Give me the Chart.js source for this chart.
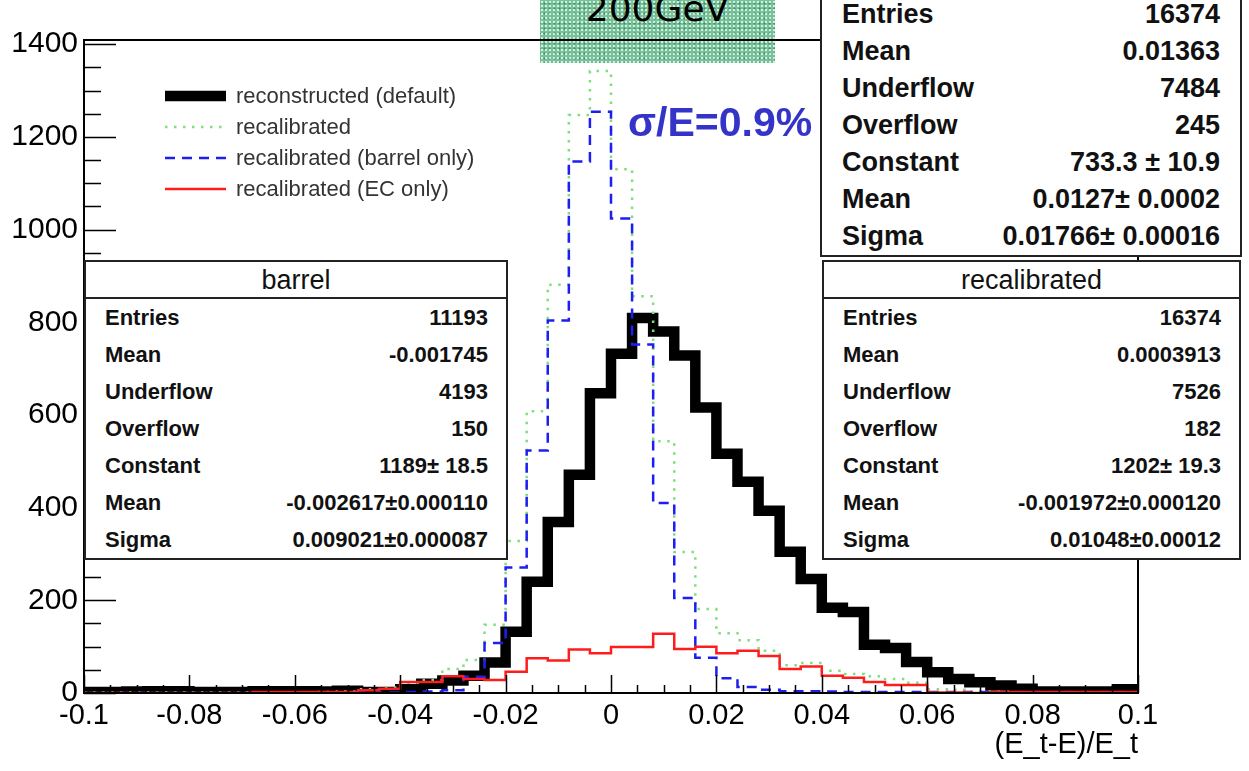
<!DOCTYPE html>
<html lang="en">
<head>
<meta charset="UTF-8">
<title>200GeV energy resolution</title>
<script src="https://cdn.jsdelivr.net/npm/chart.js"></script>
<style>
  html, body { margin: 0; padding: 0; background: #fff; }
  body { width: 1249px; height: 771px; position: relative; overflow: hidden; font-family: "Liberation Sans", Arial, sans-serif; color: #111; }
  #wrap { position: absolute; left: 0; top: 0; width: 1249px; height: 771px; z-index: 2; }
  /* green title tag */
  .tag { position: absolute; left: 540px; top: 0; width: 235px; height: 63px; z-index: 1; overflow: hidden;
         background-color: #78c29b;
         background-image: radial-gradient(circle, rgba(255,255,255,0.7) 0.9px, transparent 1.4px),
                           radial-gradient(circle, rgba(30,120,70,0.55) 0.9px, transparent 1.4px);
         background-size: 4px 4px, 5px 5px; background-position: 0 0, 2px 1px; }
  .tag span { position: absolute; left: 0; right: 0; top: -13px; text-align: center; font-family: "DejaVu Sans", sans-serif;
              font-size: 36px; line-height: 44px; color: #000; }
  .sigma { position: absolute; left: 628px; top: 99px; z-index: 3; font-weight: bold; font-size: 41px; color: #3434c8; }
  .legend { position: absolute; left: 165px; top: 80px; z-index: 3; }
  .legend .item { position: absolute; left: 0; height: 30px; white-space: nowrap; }
  .legend svg { position: absolute; left: 0; top: 0; }
  .legend span { position: absolute; left: 71px; top: 0; line-height: 30px; font-size: 22px; color: #333; }
  .stat { position: absolute; background: #fff; border: 2px solid #222; box-sizing: border-box; z-index: 3; }
  .stat .title { height: 35px; line-height: 37px; text-align: center; font-size: 27px; border-bottom: 2px solid #222; }
  .stat .row { display: flex; justify-content: space-between; height: 37px; line-height: 37px; font-weight: bold; font-size: 22px; padding: 0 18px 0 19px; }
  .stat.big .row { font-size: 27px; padding: 0 20px 0 20px; }
</style>
</head>
<body>
<div class="tag"><span>200GeV</span></div>
<div id="wrap"><canvas id="resChart" width="1249" height="771"></canvas></div>
<div class="sigma">σ/E=0.9%</div>
<div class="legend" id="legend"></div>

<div class="stat big" style="left:820px; top:-6px; width:422px;">
  <div class="row"><span>Entries</span><span>16374</span></div>
  <div class="row"><span>Mean</span><span>0.01363</span></div>
  <div class="row"><span>Underflow</span><span>7484</span></div>
  <div class="row"><span>Overflow</span><span>245</span></div>
  <div class="row"><span>Constant</span><span>733.3 ± 10.9</span></div>
  <div class="row"><span>Mean</span><span>0.0127± 0.0002</span></div>
  <div class="row"><span>Sigma</span><span>0.01766± 0.00016</span></div>
</div>

<div class="stat" style="left:84px; top:260px; width:424px;">
  <div class="title">barrel</div>
  <div class="row"><span>Entries</span><span>11193</span></div>
  <div class="row"><span>Mean</span><span>-0.001745</span></div>
  <div class="row"><span>Underflow</span><span>4193</span></div>
  <div class="row"><span>Overflow</span><span>150</span></div>
  <div class="row"><span>Constant</span><span>1189± 18.5</span></div>
  <div class="row"><span>Mean</span><span>-0.002617±0.000110</span></div>
  <div class="row"><span>Sigma</span><span>0.009021±0.000087</span></div>
</div>

<div class="stat" style="left:822px; top:260px; width:419px;">
  <div class="title">recalibrated</div>
  <div class="row"><span>Entries</span><span>16374</span></div>
  <div class="row"><span>Mean</span><span>0.0003913</span></div>
  <div class="row"><span>Underflow</span><span>7526</span></div>
  <div class="row"><span>Overflow</span><span>182</span></div>
  <div class="row"><span>Constant</span><span>1202± 19.3</span></div>
  <div class="row"><span>Mean</span><span>-0.001972±0.000120</span></div>
  <div class="row"><span>Sigma</span><span>0.01048±0.00012</span></div>
</div>

<script>
// 50 bins of width 0.004 from -0.1 to 0.1
const binEdges = Array.from({ length: 51 }, (_, i) => +(-0.1 + i * 0.004).toFixed(3));

// bin contents
const reconstructed = [2, 2, 3, 4, 4, 2, 2, 2, 4, 4,
                       4, 3, 5, 2, 2, 8, 20, 27, 37, 66,
                       132, 240, 369, 471, 647, 732, 809, 780, 728, 616,
                       516, 456, 393, 305, 246, 184, 175, 104, 97, 67,
                       45, 30, 23, 16, 9, 3, 3, 3, 3, 8];
const recalibrated = [1, 1, 1, 1, 1, 1, 1, 1, 1, 1,
                      1, 2, 3, 8, 12, 22, 28, 52, 71, 147,
                      328, 608, 881, 1247, 1342, 1130, 856, 543, 304, 181,
                      129, 114, 91, 60, 65, 48, 41, 36, 30, 22,
                      8, 7, 3, 3, 1, 1, 1, 1, 1, 1];
const barrelOnly = [0, 0, 0, 0, 0, 0, 0, 0, 0, 0,
                    0, 0, 1, 1, 1, 2, 3, 6, 35, 108,
                    271, 523, 804, 1147, 1254, 1024, 752, 410, 205, 76,
                    32, 13, 7, 4, 4, 3, 2, 2, 2, 2,
                    2, 2, 2, 2, 2, 2, 2, 2, 2, 2];
const ecOnly = [0, 0, 0, 0, 0, 0, 0, 0, 2, 2,
                2, 2, 2, 6, 9, 24, 24, 36, 30, 28,
                46, 75, 70, 94, 86, 99, 99, 128, 95, 100,
                86, 91, 80, 52, 57, 37, 33, 24, 17, 17,
                1, 1, 0, 2, 2, 2, 2, 2, 2, 2];

const seriesNames = ['reconstructed (default)', 'recalibrated', 'recalibrated (barrel only)', 'recalibrated (EC only)'];
const xTicks = [-0.1, -0.08, -0.06, -0.04, -0.02, 0, 0.02, 0.04, 0.06, 0.08, 0.1];
const yTicks = [0, 200, 400, 600, 800, 1000, 1200, 1400];
const xMinorStep = 0.005;
const yMinorStep = 50;

// histogram outline: one point per left bin edge plus the closing right edge
function steps(values) {
    const pts = values.map((v, i) => ({ x: binEdges[i], y: v }));
    pts.push({ x: binEdges[values.length], y: values[values.length - 1] });
    return pts;
}

const styles = [
    { color: '#000000', width: 10.5, dash: [] },
    { color: '#7ddf7d', width: 2.5, dash: [2.5, 6.5] },
    { color: '#1e1ef0', width: 2.5, dash: [10, 7] },
    { color: '#ff1c1c', width: 2.5, dash: [] }
];
const seriesValues = [reconstructed, recalibrated, barrelOnly, ecOnly];

// ROOT style frame with ticks on the inside
const frameTicks = {
    id: 'frameTicks',
    afterDatasetsDraw(chart) {
        const { ctx, chartArea: a, scales: { x, y } } = chart;
        ctx.save();
        ctx.strokeStyle = '#000';
        ctx.lineWidth = 1.5;
        ctx.beginPath();
        for (let v = y.min; v <= y.max; v += yMinorStep) {
            const py = Math.round(y.getPixelForValue(v)) + 0.5;
            const len = yTicks.includes(v) ? 32 : 17;
            ctx.moveTo(a.left, py); ctx.lineTo(a.left + len, py);
        }
        for (let i = 0; i * xMinorStep <= 0.2 + 1e-9; i++) {
            const v = +(x.min + i * xMinorStep).toFixed(3);
            const px = Math.round(x.getPixelForValue(v)) + 0.5;
            const len = xTicks.includes(v) ? 18 : 8;
            ctx.moveTo(px, a.bottom); ctx.lineTo(px, a.bottom - len);
        }
        ctx.stroke();
        ctx.lineWidth = 2;
        ctx.strokeRect(a.left, a.top, a.right - a.left, a.bottom - a.top);
        ctx.restore();
    }
};

const labelFont = { family: '"Liberation Sans", Arial, sans-serif', size: 29 };

new Chart(document.getElementById('resChart'), {
    type: 'line',
    data: {
        datasets: seriesValues.map((vals, i) => ({
            label: seriesNames[i],
            data: steps(vals),
            stepped: true,
            borderColor: styles[i].color,
            borderWidth: styles[i].width,
            borderDash: styles[i].dash,
            borderCapStyle: 'butt',
            borderJoinStyle: 'miter',
            pointRadius: 0,
            fill: false,
            order: 4 - i
        }))
    },
    options: {
        responsive: false,
        animation: false,
        layout: { padding: { top: 40, right: 111, left: 0, bottom: 0 } },
        plugins: { legend: { display: false }, tooltip: { enabled: false } },
        scales: {
            x: {
                type: 'linear', min: -0.1, max: 0.1,
                grid: { display: false, drawTicks: false },
                border: { display: false },
                afterBuildTicks: s => { s.ticks = xTicks.map(v => ({ value: v })); },
                afterFit: s => { s.height = 78; },
                ticks: { color: '#000', font: labelFont, padding: 6, maxRotation: 0, autoSkip: false,
                         callback: v => String(Number(v.toFixed(3))) },
                title: { display: true, text: '(E_t-E)/E_t', align: 'end', color: '#000', font: labelFont,
                         padding: { top: 0, bottom: 9 } }
            },
            y: {
                type: 'linear', min: 0, max: 1409,
                grid: { display: false, drawTicks: false },
                border: { display: false },
                afterBuildTicks: s => { s.ticks = yTicks.map(v => ({ value: v })); },
                afterFit: s => { s.width = 84; },
                ticks: { color: '#000', font: { family: labelFont.family, size: 30 }, padding: 6, callback: v => String(v) }
            }
        }
    },
    plugins: [frameTicks]
});

// legend entries in the upper left corner
const legend = document.getElementById('legend');
const rowTops = [0, 31, 62, 93];
seriesNames.forEach((name, i) => {
    const st = styles[i];
    const item = document.createElement('div');
    item.className = 'item';
    item.style.top = (rowTops[i] + 1) + 'px';
    item.innerHTML = '<svg width="62" height="30"><line x1="0" y1="15" x2="61" y2="15" stroke="' + st.color +
        '" stroke-width="' + st.width + '"' + (st.dash.length ? ' stroke-dasharray="' + st.dash.join(',') + '"' : '') +
        '/></svg><span>' + name + '</span>';
    legend.appendChild(item);
});
</script>
</body>
</html>
